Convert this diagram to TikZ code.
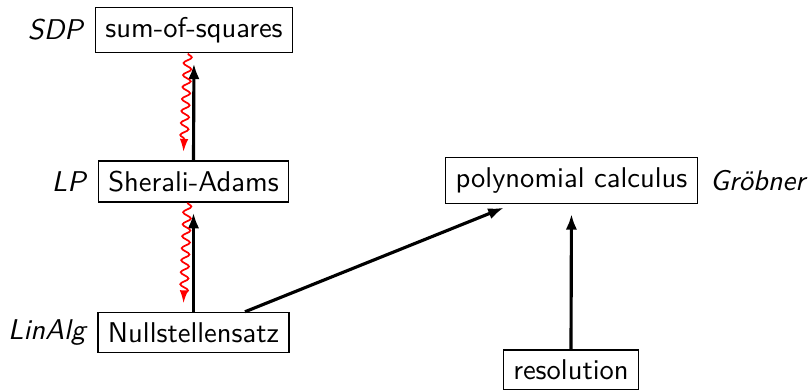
\documentclass[tikz,border=0pt]{standalone}
\usetikzlibrary{arrows.meta,decorations.pathmorphing,calc}
\begin{document}
\begin{tikzpicture}[x=0.35pt,y=-0.35pt,font=\sffamily,
  box/.style={draw,line width=0.45pt,inner sep=3.5pt},
  lab/.style={font=\sffamily\itshape,inner sep=4pt},
  imp/.style={line width=1.1pt,-{Latex[length=5.5pt,width=4pt]},shorten >=3.5pt},
  sep/.style={red,line width=0.6pt,-{Latex[length=4.5pt,width=3pt]},
    decorate,decoration={snake,amplitude=1.4pt,segment length=4.2pt,post length=3pt}}]
\useasboundingbox (0,0) rectangle (810,390);
\node[box,label={[lab]left:SDP}] (sos) at (194,30) {sum-of-squares};
\node[box,label={[lab]left:LP}] (sa) at (193.5,181.5) {Sherali-Adams};
\node[box,label={[lab]left:LinAlg}] (ns) at (193.5,332.5) {Nullstellensatz};
\node[box,label={[lab]right:Gröbner}] (pc) at (571.5,180.5) {polynomial calculus};
\node[box] (res) at (571,370) {resolution};
\draw[imp] (sa.north) -- (sos.south);
\draw[imp] (ns.north) -- (sa.south);
\draw[imp] (ns) -- (pc);
\draw[imp] (res.north) -- (pc.south);
\draw[sep] ([xshift=-2.1pt]sos.south) -- ([xshift=-3.5pt,yshift=3pt]sa.north);
\draw[sep] ([xshift=-2.1pt]sa.south) -- ([xshift=-3.5pt,yshift=3pt]ns.north);
\end{tikzpicture}
\end{document}
